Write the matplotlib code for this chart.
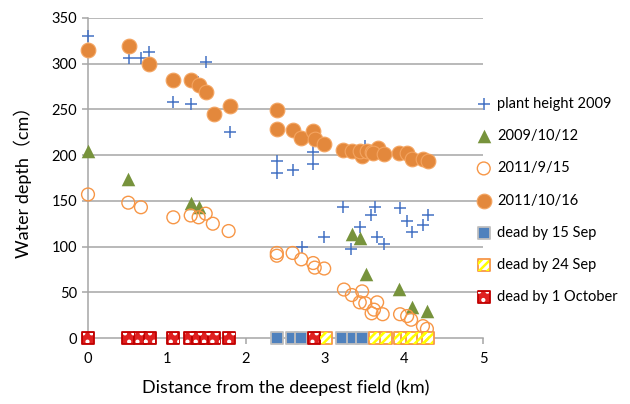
import matplotlib
matplotlib.use("Agg")
import matplotlib.pyplot as plt
from matplotlib.legend_handler import HandlerTuple

plt.rcParams['font.family'] = ['Lato', 'Noto Sans CJK JP', 'DejaVu Sans']
plt.rcParams['hatch.linewidth'] = 1.8

# ---- data ----
ph_x = [0, 0.52, 0.67, 0.77, 1.08, 1.30, 1.39, 1.49, 1.80, 2.39, 2.39, 2.59, 2.85, 2.85,
        2.71, 2.99, 3.23, 3.33, 3.44, 3.51, 3.58, 3.63, 3.66, 3.75, 3.95, 4.04, 4.10, 4.24, 4.30]
ph_y = [330, 306, 306, 313, 258, 256, 280, 302, 225, 194, 181, 184, 190, 203,
        99, 110, 143, 97, 121, 210, 135, 143, 110, 103, 142, 128, 116, 124, 135]

t09_x = [0, 0.51, 1.30, 1.40, 3.34, 3.44, 3.52, 3.94, 4.10, 4.29]
t09_y = [205, 174, 148, 143, 114, 109, 70, 54, 34, 30]

o11_x = [0, 0.51, 0.67, 1.08, 1.30, 1.40, 1.49, 1.58, 1.78, 2.39, 2.39, 2.59, 2.70, 2.85,
         2.87, 2.99, 3.24, 3.34, 3.47, 3.44, 3.51, 3.66, 3.62, 3.59, 3.73, 3.95, 4.04, 4.09,
         4.24, 4.29]
o11_y = [157, 148, 143, 132, 134, 132, 136, 125, 117, 93, 90, 93, 86, 82,
         77, 76, 53, 47, 51, 39, 38, 39, 31, 27, 26, 26, 24, 20, 13, 10]

f11_x = [0, 0.52, 0.77, 1.08, 1.30, 1.40, 1.49, 1.59, 1.80, 2.39, 2.39, 2.59, 2.70, 2.85,
         2.87, 2.99, 3.23, 3.34, 3.47, 3.44, 3.53, 3.59, 3.67, 3.61, 3.75, 3.94, 4.04, 4.10,
         4.24, 4.30]
f11_y = [315, 319, 300, 282, 282, 277, 269, 245, 254, 249, 229, 227, 219, 226,
         218, 212, 206, 205, 199, 205, 205, 203, 208, 202, 201, 202, 202, 196, 196, 194]

d15_x = [2.39, 2.58, 2.70, 3.22, 3.35, 3.47]
d15_y = [0, 0, 0, 0, 0, 0]
d24_x = [3.01, 3.63, 3.77, 3.95, 4.04, 4.10, 4.24, 4.30]
d24_y = [0, 0, 0, 0, 0, 0, 0, 0]
d01_x = [0, 0.51, 0.66, 0.78, 1.08, 1.29, 1.39, 1.49, 1.60, 1.79, 2.86]
d01_y = [0, 0, 0, 0, 0, 0, 0, 0, 0, 0, 0]

labels = ["plant height 2009", "2009/10/12", "2011/9/15", "2011/10/16",
          "dead by 15 Sep", "dead by 24 Sep", "dead by 1 October"]
x_ticks = [0, 1, 2, 3, 4, 5]
y_ticks = [0, 50, 100, 150, 200, 250, 300, 350]

# ---- figure ----
fig = plt.figure(figsize=(6.3, 4.04), dpi=100)
ax = fig.add_axes([88/630, 1-338/404, (483-88)/630, (338-18)/404])

grid_c = '#a6a6a6'
for yv in y_ticks[1:]:
    ax.axhline(yv, color=grid_c, lw=1.1, zorder=0)

h1 = ax.scatter(ph_x, ph_y, marker='+', s=85, color='#4472C4', linewidths=1.1,
                zorder=3, clip_on=False)
h2 = ax.scatter(t09_x, t09_y, marker='^', s=95, color='#77933C', linewidths=0,
                zorder=4, clip_on=False)
h3 = ax.scatter(o11_x, o11_y, marker='o', s=85, facecolors='none',
                edgecolors='#F79646', linewidths=1.0, zorder=5, clip_on=False)
h4 = ax.scatter(f11_x, f11_y, marker='o', s=112, facecolors='#E3883C',
                edgecolors='#F4A460', linewidths=0.8, zorder=6, clip_on=False)

sq = 80
h5 = ax.scatter(d15_x, d15_y, marker='s', s=sq, facecolors='#4F81BD',
                edgecolors='#BFBFBF', linewidths=1.3, zorder=7, clip_on=False)
h6a = ax.scatter(d24_x, d24_y, marker='s', s=sq, facecolors='white',
                 edgecolors='#F79646', linewidths=1.3, zorder=7, clip_on=False)
h6b = ax.scatter(d24_x, d24_y, marker='s', s=sq*0.8, facecolors='none',
                 edgecolors='#FFFF00', linewidths=0, hatch='////', zorder=8, clip_on=False)
h7a = ax.scatter(d01_x, d01_y, marker='s', s=sq, facecolors='#E02020',
                 edgecolors='#C00000', linewidths=1.3, zorder=7, clip_on=False)
h7b = ax.scatter(d01_x, d01_y, marker='s', s=sq*0.75, facecolors='none',
                 edgecolors='white', linewidths=0, hatch='..', zorder=8, clip_on=False)

ax.set_xlim(0, 5)
ax.set_ylim(0, 350)
ax.set_xticks(x_ticks)
ax.set_yticks(y_ticks)
ax.set_xticklabels([str(v) for v in x_ticks])
ax.set_yticklabels([str(v) for v in y_ticks])
for side in ['top', 'right']:
    ax.spines[side].set_visible(False)
for side in ['left', 'bottom']:
    ax.spines[side].set_color(grid_c)
    ax.spines[side].set_linewidth(1.1)
ax.tick_params(axis='both', colors=grid_c, labelcolor='#000000', labelsize=10.5,
               length=4, width=1.1, direction='out')
ax.tick_params(axis='x', pad=6)
ax.tick_params(axis='y', pad=4)

ax.set_xlabel("Distance from the deepest field (km)", fontsize=13, labelpad=10)
ax.set_ylabel("Water depth（cm）", fontsize=13, labelpad=14)

leg = fig.legend([h1, h2, h3, h4, h5, (h6a, h6b), (h7a, h7b)], labels,
                 handler_map={tuple: HandlerTuple(ndivide=1)},
                 loc='center left', bbox_to_anchor=(475/630, 1-200.5/404),
                 frameon=False, fontsize=10.5, scatterpoints=1,
                 handlelength=1.2, handletextpad=0.3, labelspacing=1.25,
                 borderpad=0, borderaxespad=0)

fig.savefig("out.png", dpi=100)
